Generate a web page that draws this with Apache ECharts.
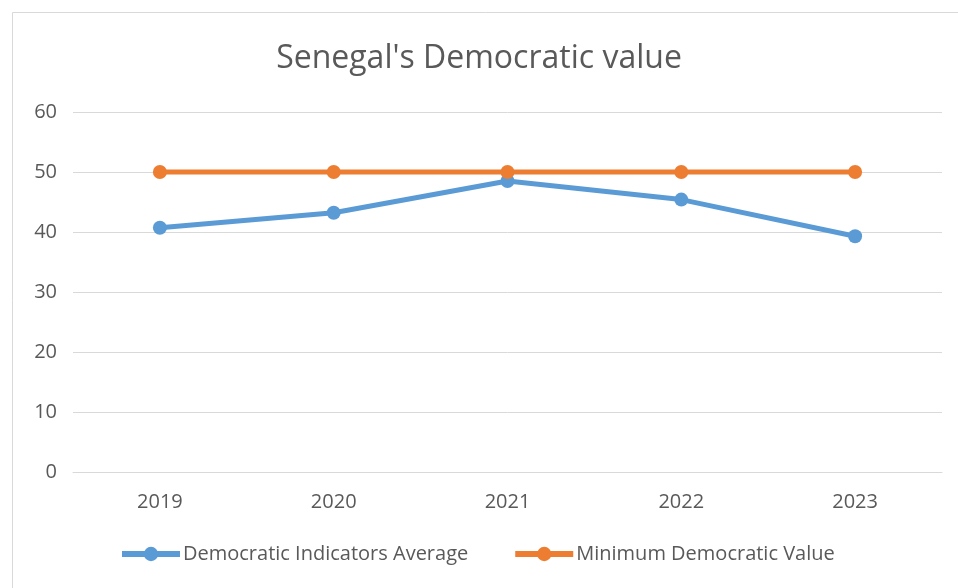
<!DOCTYPE html>
<html>
<head>
<meta charset="utf-8">
<script src="https://cdn.jsdelivr.net/npm/echarts@6/dist/echarts.min.js"></script>
<style>
  html, body { margin: 0; padding: 0; background: #fff; }
  #chart { width: 958px; height: 588px; }
</style>
</head>
<body>
<div id="chart"></div>
<script>
// years on the x axis
var years = ['2019', '2020', '2021', '2022', '2023'];
// series values
var indicatorsAvg = [40.7, 43.2, 48.5, 45.4, 39.3];
var minimumValue = [50, 50, 50, 50, 50];

var FONT = '"Open Sans", Lato, sans-serif';
var GRAY = '#595959';

var chart = echarts.init(document.getElementById('chart'));
chart.setOption({
  backgroundColor: '#fff',
  animation: false,
  graphic: [{
    type: 'rect',
    shape: { x: 12.5, y: 12.5, width: 980, height: 600 },
    style: { fill: 'none', stroke: '#d9d9d9', lineWidth: 1 }
  }],
  title: {
    text: "Senegal's Democratic value",
    left: 'center',
    top: 38,
    textStyle: { color: GRAY, fontFamily: FONT, fontSize: 32, fontWeight: 'normal' }
  },
  legend: {
    top: 539,
    left: 114,
    itemWidth: 58,
    itemHeight: 18,
    itemGap: 44,
    lineStyle: { width: 6 },
    textStyle: { color: GRAY, fontFamily: FONT, fontSize: 20, padding: [0, 0, 0, -2] }
  },
  grid: { left: 73, right: 16, top: 112, bottom: 116 },
  xAxis: {
    type: 'category',
    data: years,
    axisLine: { lineStyle: { color: '#d9d9d9' } },
    axisTick: { show: false },
    axisLabel: { color: GRAY, fontFamily: FONT, fontSize: 20, margin: 20 }
  },
  yAxis: {
    type: 'value',
    min: 0,
    max: 60,
    interval: 10,
    axisLine: { show: false },
    axisTick: { show: false },
    splitLine: { lineStyle: { color: '#d9d9d9' } },
    axisLabel: { color: GRAY, fontFamily: FONT, fontSize: 20, margin: 16 }
  },
  series: [{
    name: 'Democratic Indicators Average',
    type: 'line',
    data: indicatorsAvg,
    symbol: 'circle',
    symbolSize: 14,
    lineStyle: { width: 5, color: '#5b9bd5' },
    itemStyle: { color: '#5b9bd5' }
  }, {
    name: 'Minimum Democratic Value',
    type: 'line',
    data: minimumValue,
    symbol: 'circle',
    symbolSize: 14,
    lineStyle: { width: 5, color: '#ed7d31' },
    itemStyle: { color: '#ed7d31' }
  }]
});
</script>
</body>
</html>
